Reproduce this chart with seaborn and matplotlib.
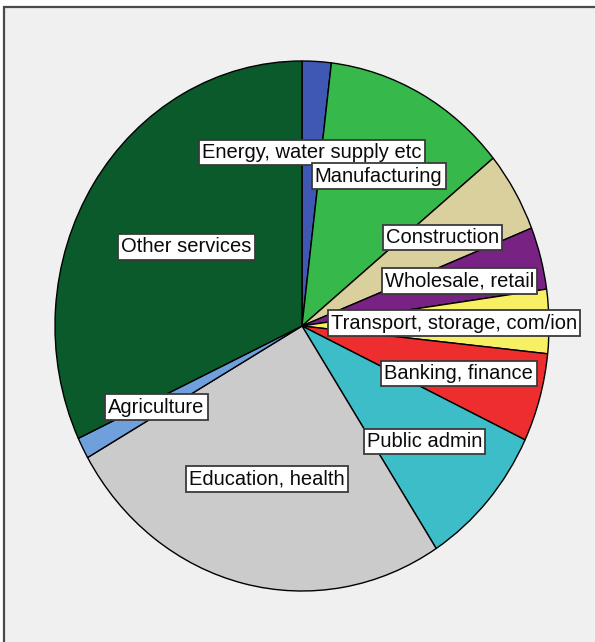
import matplotlib
matplotlib.use("Agg")
import matplotlib.pyplot as plt
from matplotlib.patches import Rectangle
import numpy as np
import seaborn as sns

# ---- data ----
categories = ["Energy, water supply etc", "Manufacturing", "Construction",
              "Wholesale, retail", "Transport, storage, com/ion",
              "Banking, finance", "Public admin", "Education, health",
              "Agriculture", "Other services"]
shares = [1.9, 12.2, 4.9, 3.8, 3.9, 5.4, 8.8, 25.9, 1.3, 32.0]
colors_hex = ["#3f58b4", "#36b94a", "#d9d09e", "#782384", "#f7f064",
              "#ee2e2e", "#3cbdc8", "#cbcbcb", "#6fa0dc", "#0b5a2c"]
label_radius = [0.655, 0.645, 0.66, 0.66, 0.615, 0.66, 0.66, 0.595, 0.665, 0.556]

sns.set_style("white")
plt.rcParams['font.family'] = ['Liberation Sans', 'DejaVu Sans']

W, H = 595, 642
fig = plt.figure(figsize=(W / 100, H / 100), dpi=100, facecolor="white")

# panel background with border (top and left edges visible)
fig.patches.append(Rectangle((4 / W, -0.2), 1.2, 1.2 - 7 / H,
                             transform=fig.transFigure, facecolor="#f0f0f0",
                             edgecolor="#4a4a4a", linewidth=1.6, zorder=-10))

cx, cy, rx, ry = 302, 326, 247, 265
ax = fig.add_axes([(cx - rx) / W, (H - cy - ry) / H, 2 * rx / W, 2 * ry / H])
ax.set_facecolor("none")
ax.patch.set_alpha(0)

palette = sns.color_palette(colors_hex)
wedges, _ = ax.pie(shares, colors=palette, startangle=90, counterclock=False,
                   wedgeprops=dict(edgecolor="black", linewidth=1.0))
ax.set_aspect("auto")
ax.set_xlim(-1, 1)
ax.set_ylim(-1, 1)
ax.axis("off")

for w, lab, r in zip(wedges, categories, label_radius):
    mid = np.deg2rad((w.theta1 + w.theta2) / 2)
    ax.text(r * np.cos(mid), r * np.sin(mid), lab, ha="center", va="center",
            fontsize=14.5, color="#0a0a0a", zorder=5,
            bbox=dict(boxstyle="square,pad=0.16", facecolor="white",
                      edgecolor="#3a3a3a", linewidth=1.3))

fig.savefig("out.png", dpi=100, facecolor=fig.get_facecolor())
